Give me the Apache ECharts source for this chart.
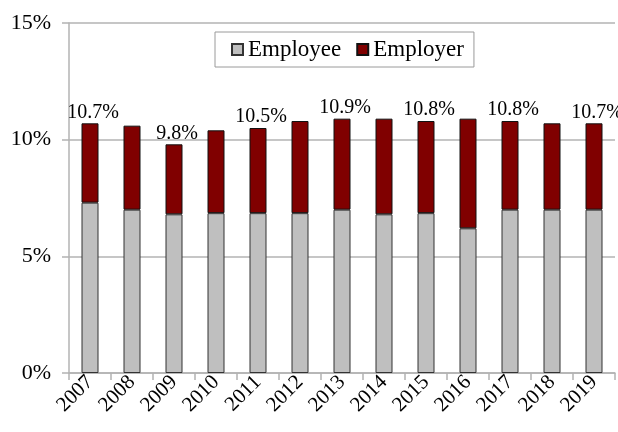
<!DOCTYPE html>
<html>
<head>
<meta charset="utf-8">
<script src="https://cdn.jsdelivr.net/npm/echarts@6/dist/echarts.min.js"></script>
<style>
  html, body { margin: 0; padding: 0; background: #fff; }
  #chart { width: 618px; height: 432px; }
</style>
</head>
<body>
<div id="chart"></div>
<script>
// data (percent of pay)
const years = ["2007", "2008", "2009", "2010", "2011", "2012", "2013", "2014", "2015", "2016", "2017", "2018", "2019"];
const employee = [7.3, 7.0, 6.8, 6.85, 6.85, 6.85, 7.0, 6.8, 6.85, 6.2, 7.0, 7.0, 7.0];
const employer = [3.4, 3.6, 3.0, 3.55, 3.65, 3.95, 3.9, 4.1, 3.95, 4.7, 3.8, 3.7, 3.7];
// totals printed above every other bar
const totalLabels = ["10.7%", "", "9.8%", "", "10.5%", "", "10.9%", "", "10.8%", "", "10.8%", "", "10.7%"];
const yTicks = [0, 5, 10, 15];

const serif = "Liberation Serif";
const myChart = echarts.init(document.getElementById("chart"));

const option = {
  animation: false,
  textStyle: { fontFamily: serif, color: "#000" },
  grid: { left: 69, right: 3, top: 23, bottom: 59 },
  legend: {
    top: 32,
    left: 215,
    padding: [6, 10, 6, 16],
    borderColor: "#9a9a9a",
    borderWidth: 1,
    backgroundColor: "#fff",
    itemWidth: 11,
    itemHeight: 11,
    itemGap: 15,
    icon: "rect",
    textStyle: { fontFamily: serif, fontSize: 23, color: "#000", padding: [0, 0, 0, 0] },
    data: ["Employee", "Employer"],
  },
  xAxis: {
    type: "category",
    data: years,
    axisLine: { lineStyle: { color: "#b3b3b3", width: 1.5 } },
    axisTick: { show: true, length: 7, lineStyle: { color: "#b3b3b3", width: 1.5 } },
    axisLabel: {
      interval: 0,
      rotate: 45,
      margin: 6,
      fontFamily: serif,
      fontSize: 21,
      color: "#000",
    },
  },
  yAxis: {
    type: "value",
    min: yTicks[0],
    max: yTicks[yTicks.length - 1],
    interval: 5,
    axisLine: { show: true, lineStyle: { color: "#b3b3b3", width: 1.5 } },
    axisTick: { show: true, length: 7, lineStyle: { color: "#b3b3b3", width: 1.5 } },
    splitLine: { lineStyle: { color: "#b3b3b3", width: 1.5 } },
    axisLabel: {
      margin: 18,
      fontFamily: serif,
      fontSize: 22,
      color: "#000",
      formatter: "{value}%",
    },
  },
  series: [
    {
      name: "Employee",
      type: "bar",
      stack: "total",
      barWidth: 17,
      data: employee,
      itemStyle: { color: "#bfbfbf", borderColor: "#333", borderWidth: 1 },
    },
    {
      name: "Employer",
      type: "bar",
      stack: "total",
      barWidth: 17,
      data: employer,
      itemStyle: { color: "#800000", borderColor: "#111", borderWidth: 1 },
      label: {
        show: true,
        position: "top",
        distance: 1,
        offset: [3, 0],
        fontFamily: serif,
        fontSize: 20,
        color: "#000",
        formatter: (p) => totalLabels[p.dataIndex],
      },
    },
  ],
};

myChart.setOption(option);
</script>
</body>
</html>
